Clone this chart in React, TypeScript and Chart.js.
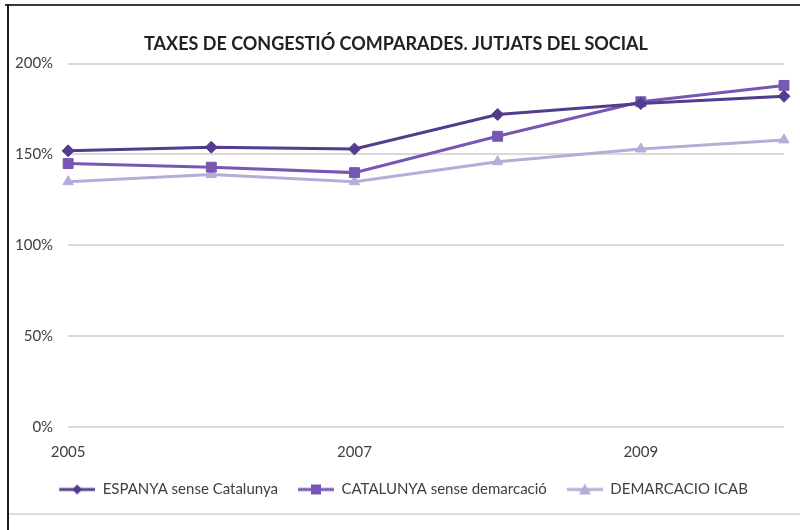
import React, { useEffect, useRef } from 'react';
import { Chart, registerables } from 'chart.js';

Chart.register(...registerables);

const chartTitle = 'TAXES DE CONGESTIÓ COMPARADES. JUTJATS DEL SOCIAL';
const years = ['2005', '2006', '2007', '2008', '2009', '2010'];
const espanya = [152, 154, 153, 172, 178, 182];
const catalunya = [145, 143, 140, 160, 179, 188];
const icab = [135, 139, 135, 146, 153, 158];
const seriesNames = ['ESPANYA sense Catalunya', 'CATALUNYA sense demarcació', 'DEMARCACIO ICAB'];
const shownYears = ['2005', '2007', '2009'];

const colors = ['#533c8c', '#7658b2', '#b6acd8'];
const markers = ['rectRot', 'rect', 'triangle'];
const radii = [6, 7, 6];

const FONT = 'Lato, "Open Sans", sans-serif';
const ICON_GAP = 15;
const ICON_W = 36;

function legendIcon(color: string, marker: string): HTMLCanvasElement {
  const c = document.createElement('canvas');
  c.width = ICON_GAP + ICON_W;
  c.height = 14;
  const ctx = c.getContext('2d')!;
  const x0 = ICON_GAP;
  const cx = x0 + ICON_W / 2;
  ctx.strokeStyle = color;
  ctx.fillStyle = color;
  ctx.lineWidth = 3;
  ctx.beginPath();
  ctx.moveTo(x0, 7);
  ctx.lineTo(x0 + ICON_W, 7);
  ctx.stroke();
  ctx.beginPath();
  if (marker === 'rectRot') {
    ctx.moveTo(cx, 2);
    ctx.lineTo(cx + 5, 7);
    ctx.lineTo(cx, 12);
    ctx.lineTo(cx - 5, 7);
  } else if (marker === 'rect') {
    ctx.rect(cx - 5, 2, 10, 10);
  } else {
    ctx.moveTo(cx, 1);
    ctx.lineTo(cx + 6, 12);
    ctx.lineTo(cx - 6, 12);
  }
  ctx.closePath();
  ctx.fill();
  return c;
}

export default function App() {
  const ref = useRef<HTMLCanvasElement>(null);

  useEffect(() => {
    document.body.style.margin = '0';
    const icons = colors.map((c, i) => legendIcon(c, markers[i]));
    const data = [espanya, catalunya, icab];
    const chart = new Chart(ref.current!, {
      type: 'line',
      data: {
        labels: years,
        datasets: data.map((d, i) => ({
          label: seriesNames[i],
          data: d,
          borderColor: colors[i],
          backgroundColor: colors[i],
          borderWidth: 3,
          pointStyle: markers[i] as any,
          pointRadius: radii[i],
          pointBorderWidth: 1,
          pointBorderColor: colors[i],
          pointBackgroundColor: colors[i],
          tension: 0,
        })),
      },
      options: {
        animation: false,
        responsive: false,
        maintainAspectRatio: false,
        layout: { padding: { left: 0, right: 8, top: 0, bottom: 23 } },
        plugins: {
          title: {
            display: true,
            text: chartTitle,
            color: '#222222',
            font: { family: FONT, size: 18, weight: 'bold' },
            padding: { top: 33, bottom: 9 },
          },
          legend: {
            position: 'bottom',
            labels: {
              usePointStyle: true,
              pointStyleWidth: ICON_GAP + ICON_W,
              padding: 5,
              color: '#404040',
              font: { family: FONT, size: 15 },
              generateLabels: (ch: any) =>
                ch.data.datasets.map((ds: any, i: number) => ({
                  text: ds.label,
                  pointStyle: icons[i],
                  fillStyle: colors[i],
                  strokeStyle: colors[i],
                  lineWidth: 0,
                  hidden: false,
                  datasetIndex: i,
                  fontColor: '#404040',
                })),
            },
          },
          tooltip: { enabled: false },
        },
        scales: {
          x: {
            offset: false,
            grid: { display: false, drawTicks: false },
            border: { display: false },
            ticks: {
              autoSkip: false,
              maxRotation: 0,
              padding: 16,
              color: '#404040',
              font: { family: FONT, size: 15 },
              callback: (_v: any, i: number) => (shownYears.includes(years[i]) ? years[i] : ''),
            },
          },
          y: {
            min: 0,
            max: 200,
            grid: { color: '#d9d9d9', lineWidth: 2, drawTicks: false },
            border: { display: false },
            ticks: {
              stepSize: 50,
              padding: 15,
              color: '#404040',
              font: { family: FONT, size: 15 },
              callback: (v: any) => v + '%',
            },
          },
        },
      },
    });
    return () => chart.destroy();
  }, []);

  return (
    <div style={{ position: 'relative', width: 800, height: 530, overflow: 'hidden', background: '#fff' }}>
      <canvas ref={ref} width={800} height={530} style={{ position: 'absolute', left: 0, top: 0 }} />
      <div style={{ position: 'absolute', left: 5, top: 4, width: 800, height: 2, background: '#3a3a3a' }} />
      <div style={{ position: 'absolute', left: 7, top: 4, width: 2, height: 530, background: '#1a1a1a' }} />
      <div style={{ position: 'absolute', left: 9, top: 513, width: 800, height: 2, background: '#dcdcdc' }} />
    </div>
  );
}
